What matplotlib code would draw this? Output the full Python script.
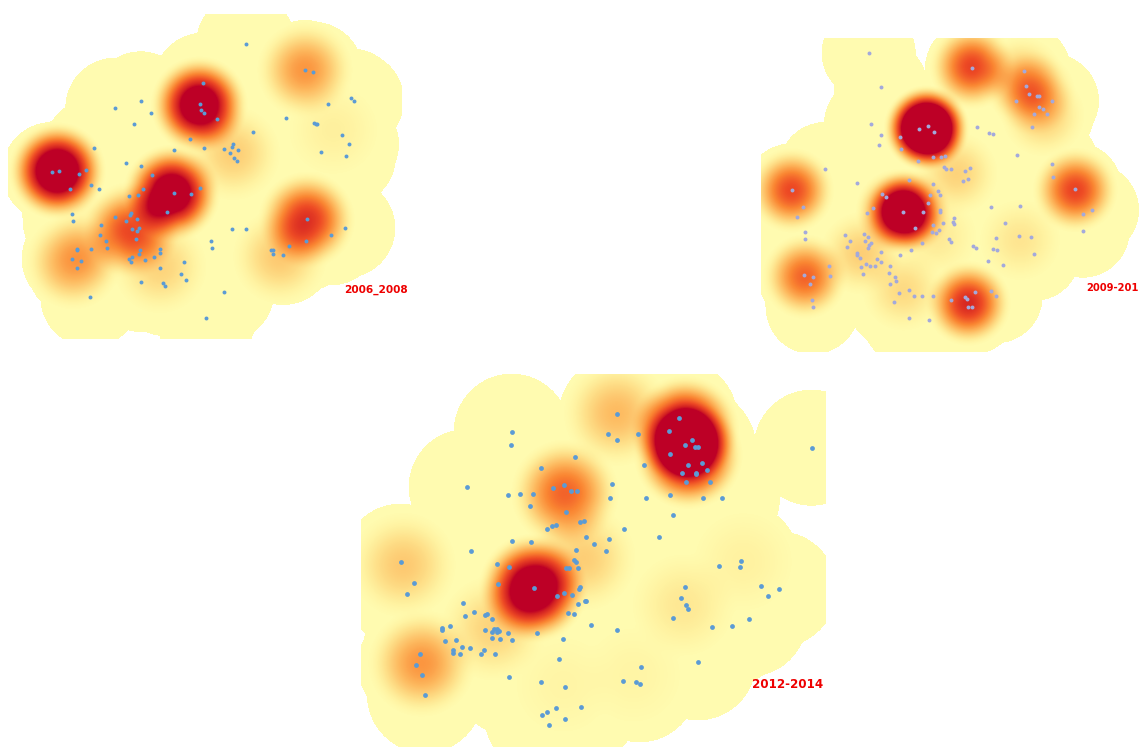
import numpy as np
import matplotlib
matplotlib.use('Agg')
import matplotlib.pyplot as plt
from matplotlib.colors import LinearSegmentedColormap

# puntos (en coordenadas de los recortes a escala 3x)
pts_a_x = [738,914,939,610,1052,1062,984,599,602,613,422,346,453,651,857,403,941,947,952,758,1025,569,1047,281,611,523,671,699,696,715,690,701,710,963,1038,156,176,238,258,378,423,457,274,296,211,428,600,523,572,387,413,501,217,218,393,389,344,377,412,304,396,417,412,697,738,921,1036,993,300,409,318,634,917,636,321,231,232,274,421,481,481,868,813,820,820,850,417,397,388,394,436,462,215,243,232,551,481,542,558,424,490,496,673,271,618]
pts_a_y = [131,210,215,248,295,302,312,312,331,340,304,323,338,356,354,371,368,372,373,397,406,418,433,445,445,451,446,433,440,451,458,474,482,457,469,516,512,521,511,489,497,524,556,567,568,568,565,579,583,588,584,637,642,663,640,645,650,662,658,676,687,683,692,686,686,657,684,706,706,718,724,722,723,744,743,746,749,748,750,748,758,738,751,749,761,765,763,771,776,786,780,771,776,783,803,787,803,822,840,846,848,858,875,892,954]

pts_b_x = [356,392,666,822,828,836,860,867,799,906,867,879,852,891,847,363,392,451,388,454,507,533,551,681,716,730,801,504,548,574,585,581,587,602,645,661,654,640,905,908,226,478,320,548,125,976,564,396,407,539,569,535,722,811,368,159,351,460,518,569,569,141,999,1026,613,579,610,612,764,549,496,566,545,557,998,165,166,286,341,353,346,362,357,299,290,353,807,843,738,597,602,517,668,677,728,742,482,392,451,851,321,320,330,382,394,713,349,332,361,375,419,759,238,339,418,240,162,189,434,439,179,420,477,448,493,515,548,676,722,737,646,650,603,433,186,188,654,666,476,537]
pts_b_y = [99,200,145,153,197,221,227,227,243,242,261,266,282,282,322,311,344,351,376,387,328,319,336,321,340,342,405,422,412,410,408,441,447,447,453,444,478,482,433,472,447,479,490,492,511,508,512,523,532,525,526,548,561,557,565,562,578,576,575,571,577,590,583,570,594,608,606,613,610,616,625,630,637,639,632,637,657,645,641,652,662,668,675,663,682,685,648,652,655,656,666,670,679,684,688,691,691,695,704,702,700,706,714,717,726,723,733,740,739,737,739,736,738,761,758,767,766,772,772,782,792,791,810,820,827,827,829,817,814,829,830,836,839,845,840,862,862,862,895,899]

pts_c_x = [801,988,958,485,774,864,802,1026,1006,482,1034,1044,1385,961,676,882,1015,1056,573,1071,997,1037,1039,1009,1080,350,641,785,610,663,681,473,510,549,961,780,887,1058,1116,539,649,968,690,703,618,607,590,823,707,927,776,487,544,733,678,769,364,671,679,1174,152,440,1108,1170,477,649,657,685,193,443,1005,1234,690,686,553,1286,642,171,620,666,993,1254,704,708,339,683,1007,1014,371,654,671,345,404,410,425,969,1198,724,1147,1085,300,275,277,405,431,441,447,425,440,475,561,802,426,451,317,284,487,639,337,361,401,309,309,209,330,392,435,626,1044,197,872,216,478,820,858,869,574,646,225,619,693,591,576,646,597]
pts_c_y = [148,158,197,200,208,208,225,226,240,239,247,247,248,267,277,299,301,295,308,314,325,323,327,352,352,366,359,358,369,379,379,389,387,387,391,400,400,400,398,423,441,451,470,467,480,483,492,491,515,515,521,528,530,536,555,557,558,585,592,588,590,596,602,606,606,609,608,610,653,657,666,662,666,671,670,673,683,687,692,691,698,694,708,708,713,716,719,732,741,744,746,753,750,748,762,758,761,780,784,787,783,789,795,795,792,793,798,801,800,803,804,795,818,821,825,828,826,823,846,848,855,856,865,867,868,868,867,883,892,900,905,931,935,947,951,958,952,965,990,1028,1025,1041,1051,1061,1079]

# focos de calor: centro y altura de cada nucleo
hot_a_x = [172,598,515,395,920,915,220,700,1000,840,480,290]
hot_a_y = [513,315,580,690,660,210,785,460,390,770,800,720]
hot_a_v = [1.47,1.34,1.34,0.70,0.82,0.44,0.42,0.22,0.07,0.24,0.20,0.08]

hot_b_x = [530,445,475,125,666,815,850,880,976,165,655,335,620,810,460,560]
hot_b_y = [325,575,575,511,140,175,220,285,510,770,850,700,460,660,810,650]
hot_b_v = [2.20,0.85,0.85,0.72,0.74,0.28,0.38,0.22,0.74,0.62,0.86,0.22,0.20,0.12,0.17,0.10]

hot_c_x = [1005,1015,550,645,800,215,160,1000,430,700,1180,640,850]
hot_c_y = [195,270,670,385,145,895,600,720,790,580,590,960,930]
hot_c_v = [1.20,1.20,1.38,0.62,0.30,0.44,0.24,0.11,0.20,0.22,0.06,0.04,0.04]

labels = ['2006_2008', '2009-201', '2012-2014']

cmap = LinearSegmentedColormap.from_list('kde', [
    (0.0, '#FFFBB0'), (0.06, '#FFF2A0'), (0.16, '#FEDD86'), (0.32, '#FDB65C'),
    (0.5, '#FA8632'), (0.7, '#EE4C25'), (0.9, '#D21F22'), (0.995, '#BD0026'), (1.0, '#BD0026')])


def panel(ax, pts_x, pts_y, hot_x, hot_y, hot_v, off, box, r_mask, r_kde, color, size):
    # de recorte 3x a pixeles de la figura
    px = off[0] + np.array(pts_x) / 3
    py = off[1] + np.array(pts_y) / 3
    hx = off[0] + np.array(hot_x) / 3
    hy = off[1] + np.array(hot_y) / 3
    x0, x1, y0, y1 = box
    gx, gy = np.meshgrid(np.arange(x0, x1, 1.0) + 0.5, np.arange(y0, y1, 1.0) + 0.5)

    dens = np.zeros(gx.shape)
    for x, y, v in zip(hx, hy, hot_v):
        d2 = ((gx - x) ** 2 + (gy - y) ** 2) / r_kde ** 2
        dens += v * np.clip(1 - d2, 0, None) ** 2

    # la zona pintada es la union de circulos alrededor de los puntos
    mask = np.zeros(gx.shape, dtype=bool)
    for x, y in zip(px, py):
        mask |= (gx - x) ** 2 + (gy - y) ** 2 <= r_mask ** 2

    rgba = cmap(np.clip(dens, 0, 1))
    rgba[..., 3] = mask
    ax.imshow(rgba, extent=(x0, x1, y1, y0), interpolation='nearest', zorder=1, aspect='auto')
    ax.scatter(px, py, s=size, color=color, linewidths=0, zorder=2)


fig = plt.figure(figsize=(11.39, 7.47), dpi=100)
ax = fig.add_axes([0, 0, 1, 1])

panel(ax, pts_a_x, pts_a_y, hot_a_x, hot_a_y, hot_a_v, (0, 0), (8, 402, 14, 339), 50, 50, '#5B9BD5', 8)
panel(ax, pts_b_x, pts_b_y, hot_b_x, hot_b_y, hot_b_v, (750, 20), (761, 1139, 38, 352), 47, 44, '#A3A9DC', 8)
panel(ax, pts_c_x, pts_c_y, hot_c_x, hot_c_y, hot_c_v, (350, 365), (361, 826, 374, 747), 58, 56, '#5B9BD5', 12)

ax.set_xlim(0, 1139)
ax.set_ylim(747, 0)
ax.axis('off')

ax.text(344, 290, labels[0], color='#EE0000', fontsize=7.6, fontweight='bold', va='center', ha='left')
ax.text(1086, 288, labels[1], color='#EE0000', fontsize=7.2, fontweight='bold', va='center', ha='left')
ax.text(752, 685, labels[2], color='#EE0000', fontsize=8.6, fontweight='bold', va='center', ha='left')

fig.savefig('out.png', dpi=100)
